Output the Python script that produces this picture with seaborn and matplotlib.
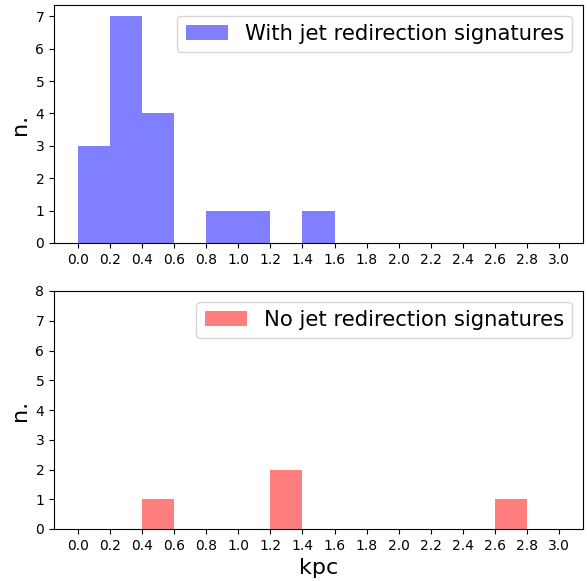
import numpy as np
import pandas as pd
import matplotlib
matplotlib.use("Agg")
import matplotlib.pyplot as plt
import seaborn as sns

bin_edges = [0.0, 0.2, 0.4, 0.6, 0.8, 1.0, 1.2, 1.4, 1.6, 1.8, 2.0, 2.2, 2.4, 2.6, 2.8, 3.0]
bin_centers = [0.1, 0.3, 0.5, 0.7, 0.9, 1.1, 1.3, 1.5, 1.7, 1.9, 2.1, 2.3, 2.5, 2.7, 2.9]
counts_with = [3, 7, 4, 0, 1, 1, 0, 1, 0, 0, 0, 0, 0, 0, 0]
counts_no = [0, 0, 1, 0, 0, 0, 2, 0, 0, 0, 0, 0, 0, 1, 0]
label_with = "With jet redirection signatures"
label_no = "No jet redirection signatures"
xticks = [0.0, 0.2, 0.4, 0.6, 0.8, 1.0, 1.2, 1.4, 1.6, 1.8, 2.0, 2.2, 2.4, 2.6, 2.8, 3.0]

fig = plt.figure(figsize=(5.87, 5.81), dpi=100)
W, H = 587, 581
ax1 = fig.add_axes([54 / W, (H - 243) / H, 529 / W, 238 / H])
ax2 = fig.add_axes([54 / W, (H - 529) / H, 529 / W, 238 / H])

df1 = pd.DataFrame({"x": bin_centers, "w": counts_with})
df2 = pd.DataFrame({"x": bin_centers, "w": counts_no})

sns.histplot(data=df1, x="x", weights="w", bins=bin_edges, color="blue", alpha=0.5,
             linewidth=0, ax=ax1, label=label_with)
sns.histplot(data=df2, x="x", weights="w", bins=bin_edges, color="red", alpha=0.5,
             linewidth=0, ax=ax2, label=label_no)

for ax in (ax1, ax2):
    ax.set_xlim(-0.15, 3.15)
    ax.set_xticks(xticks)
    ax.set_xticklabels([f"{t:.1f}" for t in xticks], fontsize=10)
    ax.set_ylabel("n.", fontsize=16)
    ax.tick_params(axis="y", labelsize=10)
    ax.legend(loc="upper right", fontsize=15.2)

ax1.set_xlabel("")
ax1.set_ylim(0, 7.35)
ax1.set_yticks(range(0, 8))
ax2.set_ylim(0, 8)
ax2.set_yticks(range(0, 9))
ax2.set_xlabel("kpc", fontsize=16)

fig.savefig("out.png", dpi=100)
